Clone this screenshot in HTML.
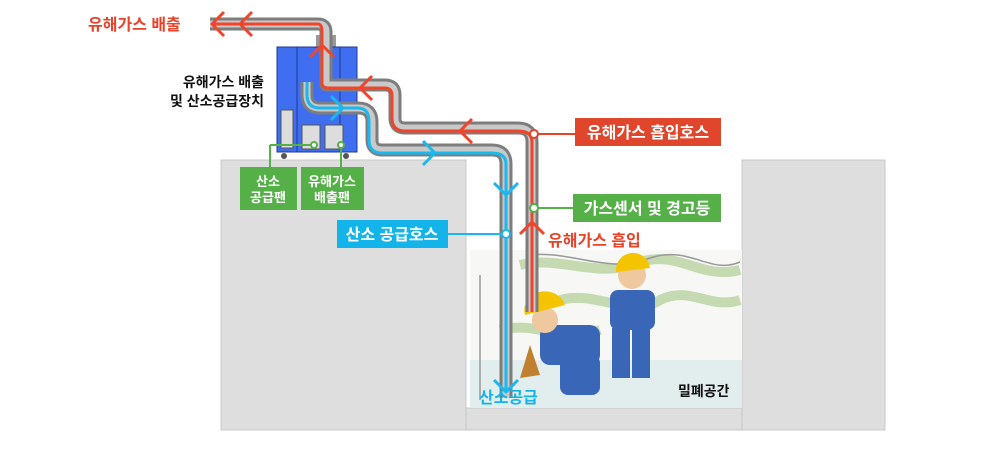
<!DOCTYPE html>
<html><head><meta charset="utf-8"><style>
body{margin:0;background:#fff;width:989px;height:456px;overflow:hidden}
text{font-family:"Liberation Sans","Noto Sans CJK KR",sans-serif;font-weight:bold}
</style></head><body>
<svg width="989" height="456" viewBox="0 0 989 456" xmlns="http://www.w3.org/2000/svg">
<rect x="221" y="160" width="245" height="270" fill="#dedede" stroke="#c8c8c8"/>
<rect x="742" y="160" width="143" height="270" fill="#dedede" stroke="#c8c8c8"/>
<rect x="466" y="408" width="276" height="22" fill="#dedede" stroke="#c8c8c8"/>
<rect x="470" y="250" width="272" height="158" fill="#f7f8f6"/>
<rect x="470" y="360" width="272" height="48" fill="#e2eeee"/>
<g fill="none" stroke="#b9d3a0" stroke-width="10" opacity="0.8">
<path d="M520 265 C560 255 600 280 640 262 C680 250 700 280 740 270"/>
<path d="M560 300 C600 290 630 320 660 300 C690 285 710 310 740 300"/>
<path d="M500 330 C540 320 560 345 600 330"/>
</g>
<g fill="none" stroke="#999" stroke-width="1.5">
<path d="M530 255 C570 250 610 275 650 258 C690 245 710 275 740 262"/>
<path d="M480 275 V400"/>
</g>
<g>
<rect x="610" y="290" width="45" height="40" rx="8" fill="#3a66b8"/>
<rect x="612" y="328" width="18" height="50" fill="#3a66b8"/>
<rect x="632" y="328" width="18" height="50" fill="#3a66b8"/>
<circle cx="632" cy="275" r="14" fill="#f0c8a0"/>
<path d="M616 272 A17 17 0 0 1 650 268 Z" fill="#f5c400"/>
<rect x="540" y="325" width="60" height="40" rx="10" fill="#3a66b8"/>
<rect x="560" y="355" width="40" height="40" rx="8" fill="#3a66b8"/>
<circle cx="545" cy="320" r="13" fill="#f0c8a0"/>
<path d="M525 315 A20 18 0 0 1 565 305 Z" fill="#f5c400"/>
<path d="M530 345 L540 375 L520 378 Z" fill="#c08030"/>
</g>
<rect x="316" y="35" width="20" height="14" fill="#999"/>
<rect x="277" y="47" width="80" height="105" fill="#3f6ef0" stroke="#1e3a90"/>
<line x1="297" y1="47" x2="297" y2="152" stroke="#1e3a90"/>
<line x1="340" y1="47" x2="340" y2="152" stroke="#1e3a90"/>
<rect x="281" y="110" width="12" height="38" fill="#ddd" stroke="#555"/>
<rect x="302" y="125" width="18" height="24" fill="#ddd" stroke="#555"/>
<rect x="325" y="125" width="18" height="24" fill="#ddd" stroke="#555"/>
<circle cx="284" cy="156" r="3" fill="#555"/><circle cx="346" cy="156" r="3" fill="#555"/>
<g fill="none" stroke="#7d7d7d" stroke-width="13" stroke-linejoin="round">
<path d="M210 24 H318 Q326 24 326 32 V85 H385 Q395 85 395 95 V118 Q395 128 405 128 H518 Q532 128 532 142 V312"/>
<path d="M307 82 V95 Q307 108 320 108 H358 Q372 108 372 122 V140 Q372 150 382 150 H492 Q506 150 506 164 V398"/>
</g>
<g fill="none" stroke="#c9c9c9" stroke-width="7" stroke-linejoin="round">
<path d="M210 24 H318 Q326 24 326 32 V85 H385 Q395 85 395 95 V118 Q395 128 405 128 H518 Q532 128 532 142 V312"/>
<path d="M307 82 V95 Q307 108 320 108 H358 Q372 108 372 122 V140 Q372 150 382 150 H492 Q506 150 506 164 V398"/>
</g>
<g fill="none" stroke="#f0452a" stroke-width="3" stroke-linejoin="round">
<path d="M212 24 H318 Q322 24 322 32 V84 Q322 88 330 88 H385 Q392 88 392 96 V118 Q392 131 405 131 H518 Q532 131 532 142 V312"/>
<path d="M224 12 L212 24 L224 36 M252 12 L240 24 L252 36 M310 57 L322 45 L334 57 M372 76 L360 88 L372 100 M472 119 L460 131 L472 143 M520 234 L532 222 L544 234"/>
</g>
<g fill="none" stroke="#1ab8ef" stroke-width="3" stroke-linejoin="round">
<path d="M307 82 V95 Q307 108 320 108 H358 Q369 108 369 122 V140 Q369 153 382 153 H492 Q506 153 506 164 V392"/>
<path d="M331 96 L343 108 L331 120 M423 141 L435 153 L423 165 M494 183 L506 195 L518 183 M494 380 L506 392 L518 380"/>
</g>
<line x1="314" y1="145" x2="270" y2="145" stroke="#55b048" stroke-width="2"/>
<line x1="270" y1="145" x2="270" y2="167" stroke="#55b048" stroke-width="2"/>
<line x1="341" y1="145" x2="341" y2="167" stroke="#55b048" stroke-width="2"/>
<circle cx="314" cy="145" r="3" fill="#fff" stroke="#55b048" stroke-width="2"/>
<circle cx="341" cy="145" r="3" fill="#fff" stroke="#55b048" stroke-width="2"/>
<line x1="534" y1="134" x2="575" y2="134" stroke="#e8432a" stroke-width="2"/>
<circle cx="534" cy="134" r="4" fill="#fff" stroke="#e8432a" stroke-width="2"/>
<line x1="534" y1="208" x2="573" y2="208" stroke="#55b048" stroke-width="2"/>
<circle cx="534" cy="208" r="4" fill="#fff" stroke="#55b048" stroke-width="2"/>
<line x1="448" y1="234" x2="506" y2="234" stroke="#1ab8ef" stroke-width="2"/>
<circle cx="506" cy="234" r="4" fill="#fff" stroke="#1ab8ef" stroke-width="2"/>
<rect x="575" y="118" width="146" height="28" fill="#e0462c"/>
<text x="648" y="138" fill="#fff" font-size="16" text-anchor="middle">유해가스 흡입호스</text>
<rect x="573" y="194" width="148" height="28" fill="#55b048"/>
<text x="647" y="214" fill="#fff" font-size="16" text-anchor="middle">가스센서 및 경고등</text>
<rect x="337" y="220" width="111" height="28" fill="#12b4ea"/>
<text x="392" y="240" fill="#fff" font-size="16" text-anchor="middle">산소 공급호스</text>
<rect x="240" y="167" width="57" height="43" fill="#55b048"/>
<text x="268" y="186" fill="#fff" font-size="13" text-anchor="middle">산소</text>
<text x="268" y="202" fill="#fff" font-size="13" text-anchor="middle">공급팬</text>
<rect x="301" y="167" width="63" height="43" fill="#55b048"/>
<text x="332" y="186" fill="#fff" font-size="13" text-anchor="middle">유해가스</text>
<text x="332" y="202" fill="#fff" font-size="13" text-anchor="middle">배출팬</text>
<text x="88" y="30" fill="#e8432a" font-size="16">유해가스 배출</text>
<text x="264" y="87" fill="#111" font-size="14" text-anchor="end">유해가스 배출</text>
<text x="264" y="106" fill="#111" font-size="14" text-anchor="end">및 산소공급장치</text>
<text x="548" y="246" fill="#e8432a" font-size="16">유해가스 흡입</text>
<text x="479" y="403" fill="#12b4ea" font-size="16">산소공급</text>
<text x="678" y="396" fill="#111" font-size="14">밀폐공간</text>
</svg>
</body></html>
